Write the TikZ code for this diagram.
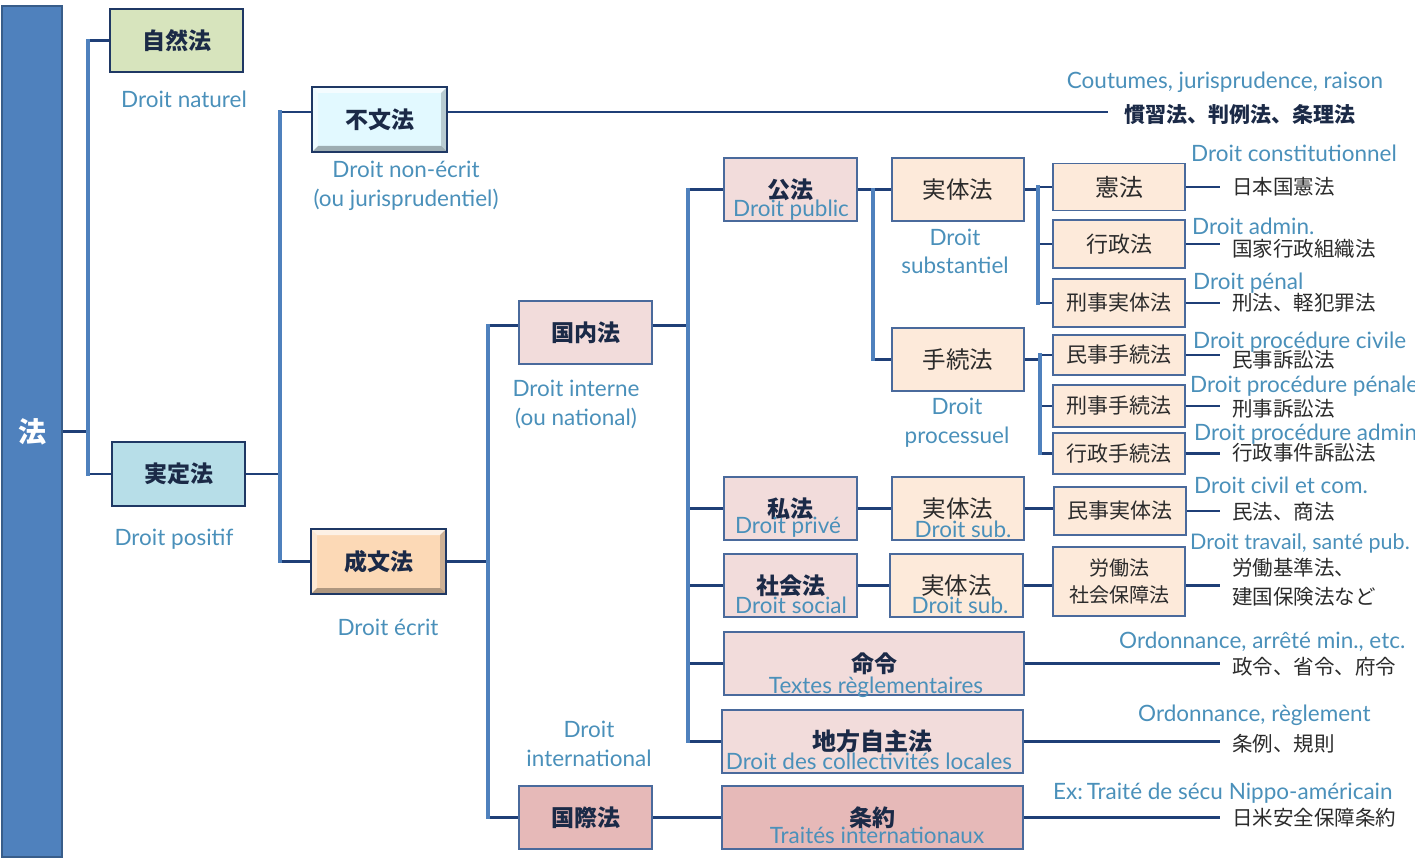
\documentclass[tikz,border=0pt]{standalone}
\usepackage{fontspec}
\setmainfont{Lato}
\newfontfamily\jp{Noto Sans CJK JP}
\usetikzlibrary{calc}
\definecolor{frblue}{HTML}{4A90BA}
\definecolor{navy}{HTML}{1B2A47}
\definecolor{jpgray}{HTML}{2B2B2B}
\definecolor{boxline}{HTML}{4A6A9C}
\definecolor{topline}{HTML}{1F3864}
\definecolor{vcol}{HTML}{4F81BD}
\definecolor{hcol}{HTML}{1F3F77}
\definecolor{barfill}{HTML}{4F81BD}
\definecolor{barline}{HTML}{385D8A}
\definecolor{green1}{HTML}{D7E4BD}
\definecolor{cyan1}{HTML}{B7DEE8}
\definecolor{cyan2}{HTML}{E2F9FF}
\definecolor{peach1}{HTML}{FCD9B6}
\definecolor{pink1}{HTML}{F2DCDB}
\definecolor{pink2}{HTML}{E6B9B8}
\definecolor{cream1}{HTML}{FDEADA}
\begin{document}
\begin{tikzpicture}[x=1pt,y=-1pt,
  hl/.style={draw=hcol,line width=2.6pt},
  vl/.style={draw=vcol,line width=3.6pt,line cap=rect},
  bx/.style={draw=boxline,line width=1.4pt,inner sep=0pt,text=jpgray,
    font=\jp\fontsize{22}{26}\selectfont},
  bxb/.style={bx,text=navy,font=\jp\bfseries\fontsize{23}{27}\selectfont},
  topbox/.style={bxb,draw=topline,line width=2.2pt},
  fr/.style={inner sep=0pt,text=frblue,font=\fontsize{22.5}{27}\selectfont,anchor=base},
  frw/.style={fr,anchor=base west},
  leaf/.style={anchor=west,inner xsep=12pt,inner ysep=0pt,text=jpgray,
    font=\jp\fontsize{20.5}{29}\selectfont},
  bevel/.style={path picture={
    \coordinate (pa) at (path picture bounding box.north west);
    \coordinate (pb) at (path picture bounding box.north east);
    \coordinate (pc) at (path picture bounding box.south east);
    \coordinate (pd) at (path picture bounding box.south west);
    \fill[white,opacity=.65] (pa)--(pb)--($(pb)+(-6,6)$)--($(pa)+(6,6)$)--cycle;
    \fill[white,opacity=.4] (pa)--($(pa)+(6,6)$)--($(pd)+(6,-6)$)--(pd)--cycle;
    \fill[black,opacity=.3] (pd)--(pc)--($(pc)+(-6,-6)$)--($(pd)+(6,-6)$)--cycle;
    \fill[black,opacity=.18] (pb)--(pc)--($(pc)+(-6,-6)$)--($(pb)+(-6,6)$)--cycle;
  }}
]
\useasboundingbox (0,0) rectangle (1415,858);
\clip (0,0) rectangle (1415,858);

% ---------- boxes ----------
\node[draw=barline,fill=barfill,line width=2.5pt,minimum width=60,minimum height=851,
  text=white,font=\jp\bfseries\fontsize{28}{32}\selectfont,inner sep=0pt] (ho) at (32,431.5) {法};

\node[topbox,fill=green1,minimum width=133,minimum height=63] (shizen) at (176.5,40.5) {自然法};
\node[topbox,fill=cyan1,minimum width=133,minimum height=64] (jitei) at (178.5,474) {実定法};
\node[topbox,fill=cyan2,bevel,minimum width=135,minimum height=65] (fubun) at (379.5,119.5) {不文法};
\node[topbox,fill=peach1,bevel,minimum width=135,minimum height=65] (seibun) at (378.5,561.5) {成文法};

\node[bxb,fill=pink1,minimum width=133,minimum height=63] (kokunai) at (585.5,332.5) {国内法};
\node[bxb,fill=pink2,minimum width=133,minimum height=63] (kokusai) at (585.5,817.5) {国際法};

\node[bxb,fill=pink1,minimum width=133,minimum height=63] (koho) at (790.5,189.5) {公法};
\node[bxb,fill=pink1,minimum width=133,minimum height=63] (shiho) at (790.5,508.5) {私法};
\node[bxb,fill=pink1,minimum width=133,minimum height=63] (shakai) at (790.5,585.5) {社会法};
\node[bxb,fill=pink1,minimum width=300,minimum height=63] (meirei) at (874,663.5) {命令};
\node[bxb,fill=pink1,minimum width=301,minimum height=63,font=\jp\bfseries\fontsize{24}{28}\selectfont] (chiho) at (872.5,741.5) {地方自主法};
\node[bxb,fill=pink2,minimum width=301,minimum height=63] (joyaku) at (872.5,817.5) {条約};

\node[bx,fill=cream1,minimum width=132,minimum height=63,font=\jp\fontsize{23.5}{28}\selectfont] (jittai1) at (958,189.5) {実体法};
\node[bx,fill=cream1,minimum width=132,minimum height=63,font=\jp\fontsize{23.5}{28}\selectfont] (tetsu) at (958,359.5) {手続法};
\node[bx,fill=cream1,minimum width=132,minimum height=63,font=\jp\fontsize{23.5}{28}\selectfont] (jittai2) at (958,508.5) {実体法};
\node[bx,fill=cream1,minimum width=133,minimum height=63,font=\jp\fontsize{23.5}{28}\selectfont] (jittai3) at (956.5,585.5) {実体法};

\node[bx,fill=cream1,minimum width=132,minimum height=47,font=\jp\fontsize{24}{28}\selectfont] (kenpo) at (1119,187) {憲法};
\node[bx,fill=cream1,minimum width=132,minimum height=48] (gyosei) at (1119,244) {行政法};
\node[bx,fill=cream1,minimum width=132,minimum height=48,font=\jp\fontsize{21}{25}\selectfont] (keijij) at (1119,303) {刑事実体法};
\node[bx,fill=cream1,minimum width=132,minimum height=40,font=\jp\fontsize{21}{25}\selectfont] (minjit) at (1119,355) {民事手続法};
\node[bx,fill=cream1,minimum width=132,minimum height=42,font=\jp\fontsize{21}{25}\selectfont] (keijit) at (1119,406) {刑事手続法};
\node[bx,fill=cream1,minimum width=132,minimum height=41,font=\jp\fontsize{21}{25}\selectfont] (gyoseit) at (1119,453.5) {行政手続法};
\node[bx,fill=cream1,minimum width=132,minimum height=48,font=\jp\fontsize{21}{25}\selectfont] (minjij) at (1120,511) {民事実体法};
\node[bx,fill=cream1,minimum width=132,minimum height=69,align=center,font=\jp\fontsize{20}{27}\selectfont] (rodo) at (1119,581.5) {労働法\\社会保障法};

% ---------- leaf texts ----------
\node[leaf,inner xsep=16pt,font=\jp\bfseries\fontsize{21}{25}\selectfont,text=navy] (lf0) at (1108,115) {慣習法、判例法、条理法};
\node[leaf] (lf1) at (1220,187) {日本国憲法};
\node[leaf] (lf2) at (1220,249) {国家行政組織法};
\node[leaf] (lf3) at (1220,303) {刑法、軽犯罪法};
\node[leaf] (lf4) at (1220,360) {民事訴訟法};
\node[leaf] (lf5) at (1220,409) {刑事訴訟法};
\node[leaf] (lf6) at (1220,453) {行政事件訴訟法};
\node[leaf] (lf7) at (1220,512) {民法、商法};
\node[leaf,align=left] (lf8) at (1220,582.5) {労働基準法、\\建国保険法など};
\node[leaf] (lf9) at (1220,667) {政令、省令、府令};
\node[leaf] (lf10) at (1220,744) {条例、規則};
\node[leaf] (lf11) at (1220,818) {日米安全保障条約};

% ---------- French labels ----------
\node[fr] (t1) at (184,108) {Droit naturel};
\node[fr] (t2) at (174,545) {Droit positif};
\node[fr] (t3) at (388,635) {Droit écrit};
\node[fr] (t4) at (406,178) {Droit non-écrit};
\node[fr] (t5) at (406,207) {(ou jurisprudentiel)};
\node[fr] (t6) at (576,396) {Droit interne};
\node[fr] (t7) at (576,425) {(ou national)};
\node[fr] (t8) at (589,737) {Droit};
\node[fr] (t9) at (589,766) {international};
\node[fr] (t10) at (955,246) {Droit};
\node[fr] (t11) at (955,274) {substantiel};
\node[fr] (t12) at (957,414) {Droit};
\node[fr] (t13) at (957,443) {processuel};
\node[fr] (t14) at (791,217) {Droit public};
\node[fr] (t15) at (788,533) {Droit privé};
\node[fr] (t16) at (791,613) {Droit social};
\node[fr] (t17) at (876,693) {Textes règlementaires};
\node[fr] (t18) at (869,769) {Droit des collectivités locales};
\node[fr] (t19) at (877,843) {Traités internationaux};
\node[fr] (t20) at (963,537) {Droit sub.};
\node[fr] (t21) at (960,613) {Droit sub.};
\node[fr] (t22) at (1225,89) {Coutumes, jurisprudence, raison};
\node[frw] (t23) at (1191,162) {Droit constitutionnel};
\node[frw] (t24) at (1192,235) {Droit admin.};
\node[frw] (t25) at (1193,290) {Droit pénal};
\node[frw] (t26) at (1193,348) {Droit procédure civile};
\node[frw] (t27) at (1190,392) {Droit procédure pénale};
\node[frw] (t28) at (1194,440) {Droit procédure admin.};
\node[frw] (t29) at (1194,493) {Droit civil et com.};
\node[frw,font=\fontsize{21.5}{26}\selectfont] (t30) at (1190,549) {Droit travail, santé pub.};
\node[frw] (t31) at (1119,648) {Ordonnance, arrêté min., etc.};
\node[frw] (t32) at (1138,721) {Ordonnance, règlement};
\node[frw] (t33) at (1053,799) {Ex:\,Traité de sécu Nippo-américain};

% ---------- bus coordinates ----------
\coordinate (b1) at (88,0);
\coordinate (b2) at (280,0);
\coordinate (b3) at (488,0);
\coordinate (b4) at (688,0);
\coordinate (b5) at (873,0);
\coordinate (b6) at (1038,0);
\coordinate (b7) at (1040,0);
\coordinate (fw) at ([yshift=7.5pt]fubun.west);
\coordinate (fe) at ([yshift=7.5pt]fubun.east);
\coordinate (kw) at ([yshift=7pt]kokunai.west);
\coordinate (ke) at ([yshift=7pt]kokunai.east);

% ---------- connectors ----------
\draw[hl] (ho.east) -- (ho.east -| b1);
\draw[hl] (b1 |- shizen.west) -- (shizen.west);
\draw[hl] (b1 |- jitei.west) -- (jitei.west);
\draw[vl] (b1 |- shizen.west) -- (b1 |- jitei.west);

\draw[hl] (jitei.east) -- (jitei.east -| b2);
\draw[hl] (b2 |- fw) -- (fw);
\draw[hl] (b2 |- seibun.west) -- (seibun.west);
\draw[vl] (b2 |- fw) -- (b2 |- seibun.west);
\draw[hl] (fe) -- (fe -| lf0.west);

\draw[hl] (seibun.east) -- (seibun.east -| b3);
\draw[hl] (b3 |- kw) -- (kw);
\draw[hl] (b3 |- kokusai.west) -- (kokusai.west);
\draw[vl] (b3 |- kw) -- (b3 |- kokusai.west);

\draw[hl] (ke) -- (ke -| b4);
\draw[hl] (b4 |- koho.west) -- (koho.west);
\draw[hl] (b4 |- shiho.west) -- (shiho.west);
\draw[hl] (b4 |- shakai.west) -- (shakai.west);
\draw[hl] (b4 |- meirei.west) -- (meirei.west);
\draw[hl] (b4 |- chiho.west) -- (chiho.west);
\draw[vl] (b4 |- koho.west) -- (b4 |- chiho.west);
\draw[hl] (kokusai.east) -- (kokusai.east -| joyaku.west);

\draw[hl] (koho.east) -- (koho.east -| b5);
\draw[hl] (b5 |- jittai1.west) -- (jittai1.west);
\draw[hl] (b5 |- tetsu.west) -- (tetsu.west);
\draw[vl] (b5 |- jittai1.west) -- (b5 |- tetsu.west);
\draw[hl] (shiho.east) -- (shiho.east -| jittai2.west);
\draw[hl] (shakai.east) -- (shakai.east -| jittai3.west);

\draw[hl] (jittai1.east) -- (jittai1.east -| b6);
\draw[hl] (b6 |- kenpo.west) -- (kenpo.west);
\draw[hl] (b6 |- gyosei.west) -- (gyosei.west);
\draw[hl] (b6 |- keijij.west) -- (keijij.west);
\draw[vl] (b6 |- kenpo.west) -- (b6 |- keijij.west);

\draw[hl] (tetsu.east) -- (tetsu.east -| b7);
\draw[hl] (b7 |- minjit.west) -- (minjit.west);
\draw[hl] (b7 |- keijit.west) -- (keijit.west);
\draw[hl] (b7 |- gyoseit.west) -- (gyoseit.west);
\draw[vl] (b7 |- minjit.west) -- (b7 |- gyoseit.west);

\draw[hl] (jittai2.east) -- (jittai2.east -| minjij.west);
\draw[hl] (jittai3.east) -- (jittai3.east -| rodo.west);

% leaf lines
\draw[hl] (kenpo.east) -- (kenpo.east -| lf1.west);
\draw[hl] (gyosei.east) -- (gyosei.east -| lf2.west);
\draw[hl] (keijij.east) -- (keijij.east -| lf3.west);
\draw[hl] (minjit.east) -- (minjit.east -| lf4.west);
\draw[hl] (keijit.east) -- (keijit.east -| lf5.west);
\draw[hl] (gyoseit.east) -- (gyoseit.east -| lf6.west);
\draw[hl] (minjij.east) -- (minjij.east -| lf7.west);
\draw[hl] (jittai3.east -| rodo.east) -- (jittai3.east -| lf8.west);
\draw[hl] (meirei.east) -- (meirei.east -| lf9.west);
\draw[hl] (chiho.east) -- (chiho.east -| lf10.west);
\draw[hl] (joyaku.east) -- (joyaku.east -| lf11.west);
\end{tikzpicture}
\end{document}
